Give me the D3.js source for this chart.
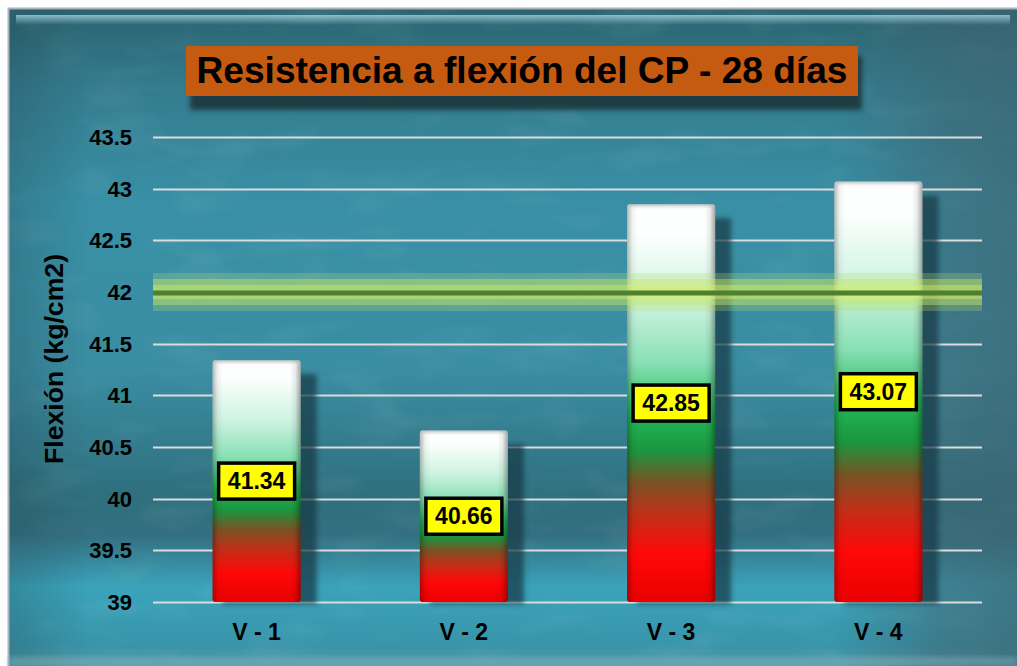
<!DOCTYPE html>
<html>
<head>
<meta charset="utf-8">
<style>
  html, body { margin: 0; padding: 0; background: #ffffff; }
  svg { display: block; font-family: "Liberation Sans", Arial, sans-serif; }
</style>
</head>
<body>
<div id="container"></div>
<script src="https://cdn.jsdelivr.net/npm/d3@7"></script>
<script>
// chart data
const categories = ["V - 1", "V - 2", "V - 3", "V - 4"];
const values = [41.34, 40.66, 42.85, 43.07];
const yTicks = [39, 39.5, 40, 40.5, 41, 41.5, 42, 42.5, 43, 43.5];
const refValue = 42;
const title = "Resistencia a flexión del CP - 28 días";
const yTitle = "Flexión (kg/cm2)";

const W = 1017, H = 666;
const svg = d3.select("#container").append("svg")
    .attr("width", W).attr("height", H);
const defs = svg.append("defs");

function linGrad(id, stops, vertical) {
    const g = defs.append("linearGradient").attr("id", id)
        .attr("x1", 0).attr("y1", 0)
        .attr("x2", vertical ? 0 : 1).attr("y2", vertical ? 1 : 0);
    stops.forEach(s => g.append("stop").attr("offset", s[0])
        .attr("stop-color", s[1]).attr("stop-opacity", s[2] === undefined ? 1 : s[2]));
    return g;
}

// background gradients
linGrad("bgV", [
    [0, "#2b6370"], [0.12, "#347c8e"], [0.3, "#3990a6"], [0.55, "#3a8da2"],
    [0.74, "#2f6f7e"], [0.8, "#336f80"], [0.88, "#3aa3ba"], [0.97, "#3894a9"], [1, "#5a9aa8"]
], true);
linGrad("bgH", [
    [0, "#1e3c46", 0.25], [0.08, "#1e3c46", 0], [0.82, "#3e6470", 0], [0.93, "#3e6470", 0.55], [1, "#3e6470", 0.7]
], false);
linGrad("bevel", [[0, "#a8d8e4", 0.9], [1, "#a8d8e4", 0]], true);

// bar gradients
linGrad("barFill", [
    [0, "#ffffff"], [0.08, "#fbfffd"], [0.25, "#cdf3e1"], [0.4, "#88e0b4"],
    [0.53, "#22b656"], [0.62, "#1a9640"], [0.7, "#7a5224"], [0.78, "#c03018"],
    [0.88, "#ff0808"], [1, "#ea0000"]
], true);
linGrad("barEdge", [
    [0, "#000000", 0.28], [0.06, "#000000", 0.05], [0.12, "#000000", 0],
    [0.88, "#000000", 0], [0.94, "#000000", 0.08], [1, "#000000", 0.35]
], false);
linGrad("barTop", [[0, "#6e7a7e", 0.5], [1, "#ffffff", 0]], true);

const blur = defs.append("filter").attr("id", "blur2")
    .attr("x", "-20%").attr("y", "-20%").attr("width", "140%").attr("height", "140%");
blur.append("feGaussianBlur").attr("stdDeviation", 2.5);

const noise = defs.append("filter").attr("id", "noise");
noise.append("feTurbulence").attr("type", "fractalNoise")
    .attr("baseFrequency", "0.012 0.03").attr("numOctaves", 3).attr("seed", 7);
noise.append("feColorMatrix").attr("type", "matrix")
    .attr("values", "0 0 0 0 0.75  0 0 0 0 0.9  0 0 0 0 0.95  0 0 0 -1.1 0.55");

// panel
const panel = { x: 8, y: 9, w: W - 8, h: H - 9 };
svg.append("rect").attr("x", panel.x).attr("y", panel.y)
    .attr("width", panel.w).attr("height", panel.h).attr("fill", "url(#bgV)");
svg.append("rect").attr("x", panel.x).attr("y", panel.y)
    .attr("width", panel.w).attr("height", panel.h)
    .attr("filter", "url(#noise)").attr("opacity", 0.18);
svg.append("rect").attr("x", panel.x).attr("y", panel.y)
    .attr("width", panel.w).attr("height", panel.h).attr("fill", "url(#bgH)");
// top bevel highlight
svg.append("rect").attr("x", 16).attr("y", 15).attr("width", 994).attr("height", 10)
    .attr("fill", "url(#bevel)").attr("opacity", 0.85);
// bottom light edge
svg.append("rect").attr("x", panel.x).attr("y", 657).attr("width", panel.w).attr("height", 9)
    .attr("fill", "#7fb0bc").attr("opacity", 0.45).attr("filter", "url(#blur2)");
// panel border
svg.append("path")
    .attr("d", `M${panel.x + 0.5},${H} V${panel.y - 0.5} H${W}`)
    .attr("fill", "none").attr("stroke", "#a9b3bb").attr("stroke-width", 2);

// title
const tb = { x: 186, y: 46, w: 672, h: 50 };
svg.append("rect").attr("x", tb.x + 4).attr("y", tb.y + 10).attr("width", tb.w)
    .attr("height", tb.h + 4).attr("fill", "#14262c").attr("opacity", 0.75)
    .attr("filter", "url(#blur2)");
svg.append("rect").attr("x", tb.x).attr("y", tb.y).attr("width", tb.w).attr("height", tb.h)
    .attr("fill", "#c55a11");
svg.append("text").attr("x", tb.x + tb.w / 2).attr("y", 83)
    .attr("text-anchor", "middle").attr("font-size", 36).attr("font-weight", "bold")
    .attr("fill", "#000").attr("textLength", 651).attr("lengthAdjust", "spacingAndGlyphs")
    .text(title);

// scales
const y = d3.scaleLinear().domain([39, 43.5]).range([602, 137]);
const x = d3.scaleBand().domain(categories).range([153, 982])
    .paddingInner(0.575).paddingOuter(0.2875);

// grid lines
svg.append("g").selectAll("line").data(yTicks).join("line")
    .attr("x1", 153).attr("x2", 982)
    .attr("y1", d => Math.round(y(d)) + 0.5).attr("y2", d => Math.round(y(d)) + 0.5)
    .attr("stroke", "#dcdcdc").attr("stroke-width", 2);

// y tick labels
svg.append("g").selectAll("text").data(yTicks).join("text")
    .attr("x", 132).attr("y", d => y(d) + 8)
    .attr("text-anchor", "end").attr("font-size", 22).attr("font-weight", "bold")
    .attr("fill", "#000").text(d => d);

// y title
svg.append("text")
    .attr("transform", `translate(63,${359}) rotate(-90)`)
    .attr("text-anchor", "middle").attr("font-size", 25).attr("font-weight", "bold")
    .attr("fill", "#000").attr("textLength", 210).attr("lengthAdjust", "spacingAndGlyphs")
    .text(yTitle);

// bars
const bars = svg.append("g").selectAll("g").data(values).join("g");
const bw = x.bandwidth();
bars.append("rect") // shadow
    .attr("x", (d, i) => x(categories[i]) + 10).attr("y", d => y(d) + 14)
    .attr("width", bw + 6).attr("height", d => y(39) - y(d) - 12)
    .attr("fill", "#183844").attr("opacity", 0.7).attr("filter", "url(#blur2)");
bars.append("rect")
    .attr("x", (d, i) => x(categories[i])).attr("y", d => y(d))
    .attr("width", bw).attr("height", d => y(39) - y(d))
    .attr("rx", 3).attr("fill", "url(#barFill)");
bars.append("rect")
    .attr("x", (d, i) => x(categories[i])).attr("y", d => y(d))
    .attr("width", bw).attr("height", d => y(39) - y(d))
    .attr("rx", 3).attr("fill", "url(#barEdge)");
bars.append("rect")
    .attr("x", (d, i) => x(categories[i]) + 2).attr("y", d => y(d))
    .attr("width", bw - 4).attr("height", 6)
    .attr("rx", 3).attr("fill", "url(#barTop)");

// reference line with glow
const ry = y(refValue);
const glow = svg.append("g");
glow.append("rect").attr("x", 153).attr("y", ry - 19).attr("width", 829).attr("height", 38)
    .attr("fill", "#b4dc6a").attr("opacity", 0.28);
glow.append("rect").attr("x", 153).attr("y", ry - 13).attr("width", 829).attr("height", 26)
    .attr("fill", "#c8ea66").attr("opacity", 0.42);
glow.append("rect").attr("x", 153).attr("y", ry - 7).attr("width", 829).attr("height", 14)
    .attr("fill", "#d8f268").attr("opacity", 0.4);
glow.append("line").attr("x1", 153).attr("x2", 982).attr("y1", ry + 1).attr("y2", ry + 1)
    .attr("stroke", "#4f7f2f").attr("stroke-width", 5);

// value labels
const labels = svg.append("g").selectAll("g").data(values).join("g")
    .attr("transform", (d, i) => `translate(${x(categories[i]) + bw / 2},${(y(d) + y(39)) / 2})`);
labels.append("rect").attr("x", -38).attr("y", -18).attr("width", 76).attr("height", 36)
    .attr("fill", "#ffff00").attr("stroke", "#000").attr("stroke-width", 3.5);
labels.append("text").attr("y", 8).attr("text-anchor", "middle")
    .attr("font-size", 23).attr("font-weight", "bold").attr("fill", "#000")
    .text(d => d.toFixed(2));

// x labels
svg.append("g").selectAll("text").data(categories).join("text")
    .attr("x", d => x(d) + bw / 2).attr("y", 640)
    .attr("text-anchor", "middle").attr("font-size", 23).attr("font-weight", "bold")
    .attr("fill", "#000").text(d => d);
</script>
</body>
</html>
